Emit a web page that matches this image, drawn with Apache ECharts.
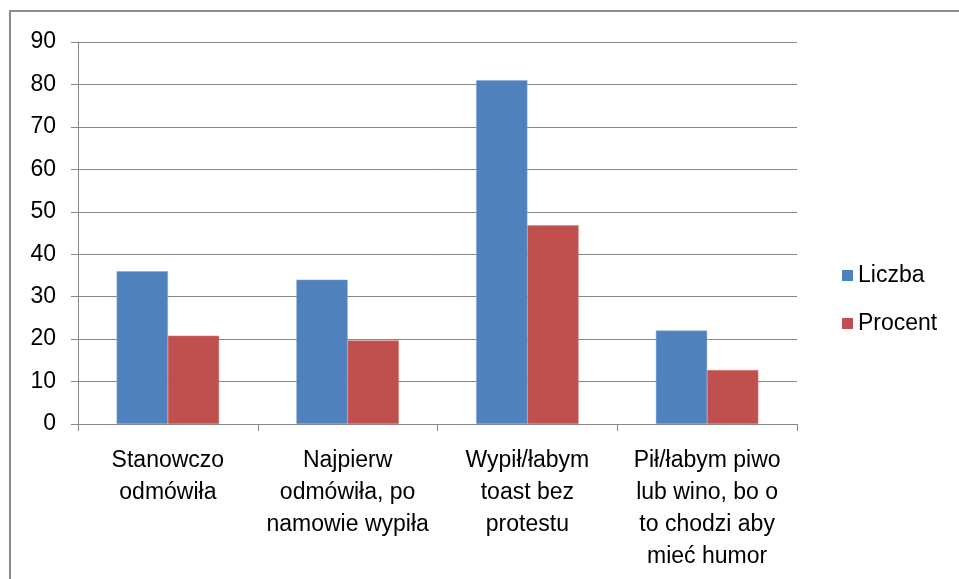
<!DOCTYPE html>
<html>
<head>
<meta charset="utf-8">
<script src="https://cdn.jsdelivr.net/npm/echarts@6/dist/echarts.min.js"></script>
<style>
  html, body { margin: 0; padding: 0; background: #fff; }
  #chart { width: 959px; height: 579px; }
</style>
</head>
<body>
<div id="chart"></div>
<script>
const categories = [
  'Stanowczo\nodmówiła',
  'Najpierw\nodmówiła, po\nnamowie wypiła',
  'Wypił/łabym\ntoast bez\nprotestu',
  'Pił/łabym piwo\nlub wino, bo o\nto chodzi aby\nmieć humor'
]
const liczba = [36, 34, 81, 22]
const procent = [20.8, 19.7, 46.8, 12.7]
const yTicks = { min: 0, max: 90, interval: 10 }

const font = '"Liberation Sans", sans-serif'

let chart = echarts.init(document.getElementById('chart'))

const option = {
  animation: false,
  backgroundColor: '#fff',
  graphic: [
    {
      type: 'rect',
      shape: { x: 10, y: 11, width: 1200, height: 1200 },
      style: { fill: 'none', stroke: '#8c8c8c', lineWidth: 2 }
    }
  ],
  grid: {
    left: 78,
    right: 162,
    top: 42,
    bottom: 155
  },
  legend: {
    orient: 'vertical',
    left: 837,
    top: 259,
    itemWidth: 11,
    itemHeight: 11,
    itemGap: 25,
    icon: 'rect',
    itemStyle: { borderWidth: 0 },
    textStyle: { fontFamily: font, fontSize: 23, color: '#000' },
    data: ['Liczba', 'Procent']
  },
  xAxis: {
    type: 'category',
    data: categories,
    axisLine: { lineStyle: { color: '#868686', width: 1 } },
    axisTick: { show: true, length: 7, lineStyle: { color: '#868686' } },
    axisLabel: {
      fontFamily: font,
      fontSize: 23,
      color: '#000',
      lineHeight: 32,
      margin: 21,
      interval: 0
    }
  },
  yAxis: {
    type: 'value',
    min: yTicks.min,
    max: yTicks.max,
    interval: yTicks.interval,
    axisLine: { show: true, lineStyle: { color: '#868686', width: 1 } },
    axisTick: { show: true, length: 7, lineStyle: { color: '#868686' } },
    splitLine: { lineStyle: { color: '#868686', width: 1 } },
    axisLabel: {
      fontFamily: font,
      fontSize: 23,
      color: '#000',
      margin: 22
    }
  },
  series: [
    {
      name: 'Liczba',
      type: 'bar',
      data: liczba,
      barGap: '0%',
      barCategoryGap: '43%',
      itemStyle: { color: '#4f81bd', borderColor: '#7fa5d6', borderWidth: 0.5 }
    },
    {
      name: 'Procent',
      type: 'bar',
      data: procent,
      itemStyle: { color: '#c0504d', borderColor: '#d67c79', borderWidth: 0.5 }
    }
  ]
}

chart.setOption(option)
</script>
</body>
</html>
